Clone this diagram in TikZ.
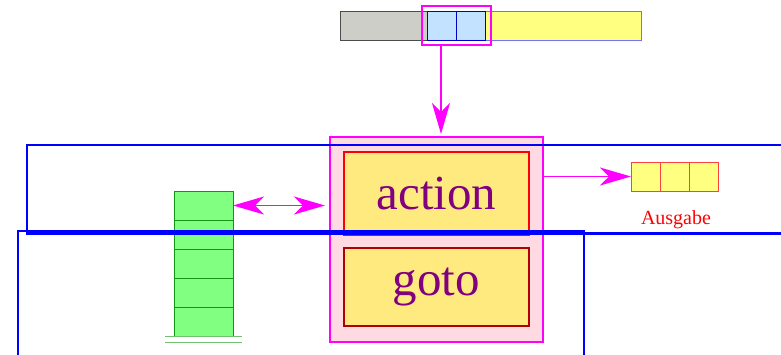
\documentclass[tikz,border=0pt]{standalone}
\usepackage{fontspec}
\setmainfont{Liberation Serif}
\usetikzlibrary{arrows.meta}

\definecolor{magx}{RGB}{255,0,255}
\definecolor{pinkfill}{RGB}{255,218,226}
\definecolor{boxyellow}{RGB}{255,234,128}
\definecolor{lyellow}{RGB}{255,255,128}
\definecolor{lblue}{RGB}{194,226,255}
\definecolor{grayfill}{RGB}{206,206,200}
\definecolor{stackgreen}{RGB}{128,255,128}
\definecolor{stackline}{RGB}{20,150,20}
\definecolor{txtpurple}{RGB}{128,0,128}
\definecolor{framblue}{RGB}{0,0,255}

\tikzset{
  cell/.style={rectangle, inner sep=0pt, outer sep=0pt, anchor=north west},
  marrow/.style={draw=magx, line width=1.5pt, -{Stealth[length=31pt,width=18pt,inset=9pt]}},
  frame/.style={draw=framblue, line width=2.8pt},
  bigword/.style={text=txtpurple, font=\fontsize{49}{49}\selectfont},
}

\begin{document}
\begin{tikzpicture}[x=1pt,y=-1pt]
\useasboundingbox (0,0) rectangle (781,354);
\clip (0,0) rectangle (781,354);

% input tape
\node[cell, fill=grayfill, draw=gray!60!black, line width=0.9pt,
      minimum width=87pt, minimum height=29pt] (t0) at (340,11) {};
\node[cell, fill=lyellow, draw=blue!55, line width=0.9pt,
      minimum width=156pt, minimum height=29pt] (t3) at (485,11) {};
\node[cell, fill=lblue, draw=blue!80!black, line width=0.9pt,
      minimum width=29pt, minimum height=29pt] (t1) at (427,11) {};
\node[cell, fill=lblue, draw=blue!80!black, line width=0.9pt,
      minimum width=29pt, minimum height=29pt] (t2) at (456,11) {};
\node[cell, draw=magx, line width=1.4pt,
      minimum width=69pt, minimum height=39pt] (sel) at (422,6) {};

% parser tables
\node[cell, fill=pinkfill, draw=magx, line width=1.4pt,
      minimum width=213pt, minimum height=205pt] (pk) at (330,137) {};
\node[cell, fill=boxyellow, draw=red, line width=1.3pt,
      minimum width=185pt, minimum height=83pt] (act) at (344,152) {};
\node[bigword] at (act.center) {action};
\node[cell, fill=boxyellow, draw=red!70!black, line width=1.3pt,
      minimum width=185pt, minimum height=78pt] (gt) at ([yshift=1pt]344,249) {};
\node[bigword] at (gt.center) {goto};

% stack
\foreach \i/\y in {1/191,2/220,3/249,4/278,5/307}
  \node[cell, fill=stackgreen, draw=stackline, line width=1pt,
        minimum width=59pt, minimum height=29pt] (s\i) at (174,\y) {};
\coordinate (b1) at (165,336.5);
\coordinate (b2) at (242,336.5);
\coordinate (b3) at (165,342);
\coordinate (b4) at (242,342);
\draw[stackline!60, line width=1pt] (b1) -- (b2) (b3) -- (b4);

% output tape
\foreach \i/\x in {1/631,2/660,3/689}
  \node[cell, fill=lyellow, draw=red!75, line width=1pt,
        minimum width=29pt, minimum height=29pt] (o\i) at (\x,162) {};
\node[text=red, font=\fontsize{20}{20}\selectfont] at (676,220) {Ausgabe};

% connectors
\coordinate (a1) at (441,45);
\draw[marrow, shorten >=3pt] (a1) -- (a1 |- pk.north);
\draw[marrow, {Stealth[length=31pt,width=18pt,inset=9pt]}-{Stealth[length=31pt,width=18pt,inset=9pt]}, shorten >=5pt]
  (s1.east) -- (s1.east -| pk.west);
\draw[marrow] (o1.west -| pk.east) -- (o1.west);

% frames
\draw[frame] (27,145) rectangle (800,233.5);
\draw[frame] (18,231) rectangle (584,370);
\end{tikzpicture}
\end{document}
